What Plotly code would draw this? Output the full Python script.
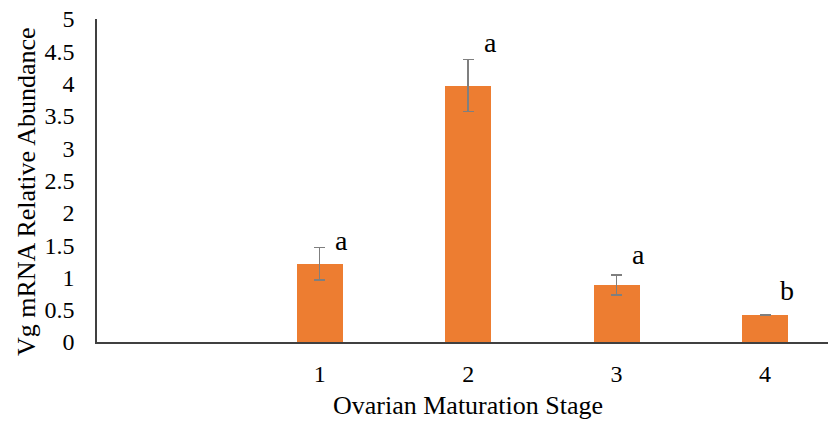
import plotly.graph_objects as go

categories = ["", "1", "2", "3", "4"]
values = [None, 1.21, 3.97, 0.88, 0.42]
errors = [None, 0.25, 0.40, 0.155, 0.006]
letters = ["", "a", "a", "a", "b"]
letter_y = [None, 1.57, 4.63, 1.35, 0.79]
y_ticks = [0, 0.5, 1, 1.5, 2, 2.5, 3, 3.5, 4, 4.5, 5]
y_tick_text = ["0", "0.5", "1", "1.5", "2", "2.5", "3", "3.5", "4", "4.5", "5"]

FONT = "'Times New Roman', 'Liberation Serif', 'DejaVu Serif', serif"
xs = list(range(len(categories)))

fig = go.Figure()
fig.add_trace(go.Bar(
    x=xs, y=values, width=0.31,
    marker=dict(color="#ED7D31", line=dict(width=0)),
    error_y=dict(type="data", array=errors, visible=True,
                 color="#7F7F7F", thickness=1.5, width=5.5),
    showlegend=False,
))

for i, (lab, ly) in enumerate(zip(letters, letter_y)):
    if lab:
        fig.add_annotation(x=i + 0.15, y=ly, text=lab, showarrow=False,
                           font=dict(family=FONT, size=28, color="black"),
                           xref="x", yref="y")

fig.add_annotation(x=(468 - 97) / (828 - 97), y=-(405 - 342) / (342 - 19),
                   xref="paper", yref="paper", text="Ovarian Maturation Stage",
                   xanchor="center", yanchor="middle",
                   showarrow=False, font=dict(family=FONT, size=26, color="black"))
fig.add_annotation(x=-(97 - 26) / (828 - 97), y=(342 - 192) / (342 - 19),
                   xref="paper", yref="paper", text="Vg mRNA Relative Abundance",
                   xanchor="center", yanchor="middle", textangle=-90,
                   showarrow=False, font=dict(family=FONT, size=26, color="black"))

fig.update_layout(
    width=828, height=421,
    margin=dict(l=97, r=0, t=19, b=79),
    paper_bgcolor="white", plot_bgcolor="white",
    font=dict(family=FONT, size=24, color="black"),
    bargap=0,
)

fig.update_xaxes(
    range=[-0.5, 4.424],
    tickvals=xs, ticktext=categories,
    showline=True, linecolor="#404040", linewidth=1.5,
    showgrid=False, zeroline=False, ticks="",
    tickfont=dict(family=FONT, size=24, color="black"),
    ticklabelstandoff=9,
)
fig.update_yaxes(
    range=[0, 5],
    tickvals=y_ticks, ticktext=y_tick_text,
    showline=True, linecolor="#404040", linewidth=1.5,
    showgrid=False, zeroline=False, ticks="",
    tickfont=dict(family=FONT, size=24, color="black"),
    ticklabelstandoff=16,
)

fig.write_html("out.html")
